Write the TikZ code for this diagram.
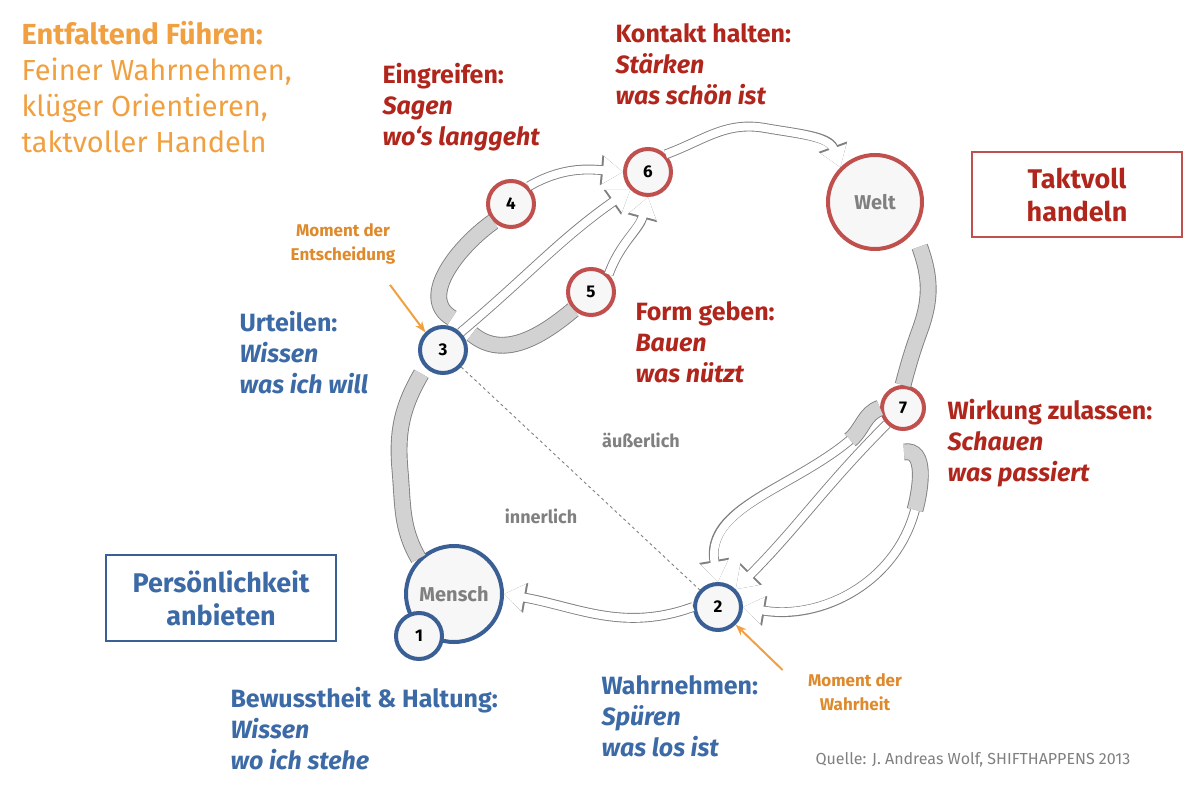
\documentclass[tikz,border=0pt]{standalone}
\usepackage{fontspec}
\setmainfont{Fira Sans}
\usetikzlibrary{arrows.meta}
\definecolor{orangetxt}{HTML}{F0A040}
\definecolor{orangemom}{HTML}{DE8A2C}
\definecolor{redtxt}{HTML}{B0261C}
\definecolor{redring}{HTML}{C0504D}
\definecolor{bluetxt}{HTML}{3C6AA6}
\definecolor{bluering}{HTML}{3A5F94}
\tikzset{
  ring/.style={circle, line width=4pt, fill=gray!6, inner sep=0pt, font=\fontsize{17}{17}\selectfont\bfseries},
  redstep/.style={ring, draw=redring, minimum size=46pt},
  bluestep/.style={ring, draw=bluering, minimum size=46pt},
  label/.style={anchor=north west, align=left, font=\fontsize{25}{31}\selectfont\bfseries},
  band/.style={draw=gray, double=gray!35, double distance=15pt, line width=0.9pt},
  whitearrow/.style={draw=white, line width=8pt, -{Triangle[length=20pt,width=26pt,fill=white]},
    preaction={draw=gray, line width=9.8pt, -{Triangle[length=22pt,width=29pt]}}},
  moment/.style={-{Stealth[length=11pt]}, orangetxt, line width=2pt}
}
\begin{document}
\begin{tikzpicture}[x=1pt,y=-1pt]
\useasboundingbox (0,0) rectangle (1200,802);
% headline
\node[label, text=orangetxt, font=\fontsize{29}{36}\selectfont] (title) at (18,18)
  {\textbf{Entfaltend Führen:}\\\mdseries Feiner Wahrnehmen,\\\mdseries klüger Orientieren,\\\mdseries taktvoller Handeln};
% circles
\node[ring, draw=redring, minimum size=94pt, text=gray, font=\fontsize{20}{20}\selectfont\bfseries] (welt) at (875,202) {Welt};
\node[ring, draw=bluering, minimum size=96pt, text=gray, font=\fontsize{20}{20}\selectfont\bfseries] (mensch) at (454,594) {Mensch};
\node[bluestep] (n1) at (419,636) {1};
\node[bluestep] (n2) at (718,607) {2};
\node[bluestep] (n3) at (443,350) {3};
\node[redstep] (n4) at (511,204) {4};
\node[redstep] (n5) at (591,292) {5};
\node[redstep] (n6) at (648,172) {6};
\node[redstep, minimum size=42pt] (n7) at (903,408) {7};
% boxes
\node[draw=redring, line width=2pt, minimum width=210pt, minimum height=85pt, text=redtxt,
  align=center, font=\fontsize{27}{33}\selectfont\bfseries] (takt) at (1077,195) {Taktvoll\\handeln};
\node[draw=bluering, line width=2pt, minimum width=230pt, minimum height=86pt, text=bluetxt,
  align=center, font=\fontsize{27}{33}\selectfont\bfseries] (pers) at (221,598) {Persönlichkeit\\anbieten};
% labels
\node[label, text=redtxt] (kontakt) at (612,20) {Kontakt halten:\\\itshape Stärken\\\itshape was schön ist};
\node[label, text=redtxt] (eingreifen) at (379,60) {Eingreifen:\\\itshape Sagen\\\itshape wo‘s langgeht};
\node[label, text=redtxt] (form) at (632,298) {Form geben:\\\itshape Bauen\\\itshape was nützt};
\node[label, text=redtxt] (wirkung) at (944,396) {Wirkung zulassen:\\\itshape Schauen\\\itshape was passiert};
\node[label, text=bluetxt] (urteilen) at (236,308) {Urteilen:\\\itshape Wissen\\\itshape was ich will};
\node[label, text=bluetxt] (bewusst) at (227,684) {Bewusstheit \& Haltung:\\\itshape Wissen\\\itshape wo ich stehe};
\node[label, text=bluetxt] (wahr) at (598,672) {Wahrnehmen:\\\itshape Spüren\\\itshape was los ist};
\node[text=orangemom, align=center, font=\fontsize{17}{24}\selectfont\bfseries] (entsch) at (343,244) {Moment der\\Entscheidung};
\node[text=orangemom, align=center, font=\fontsize{17}{24}\selectfont\bfseries] (wahrheit) at (855,692) {Moment der\\Wahrheit};
\node[text=gray, font=\fontsize{18}{18}\selectfont\bfseries] (aussen) at (641,440) {äußerlich};
\node[text=gray, font=\fontsize{18}{18}\selectfont\bfseries] (innen) at (541,516) {innerlich};
\node[anchor=west, text=gray, font=\fontsize{16}{16}\selectfont] (quelle) at (812,760) {Quelle: J. Andreas Wolf, SHIFTHAPPENS 2013};
% dashed divider
\draw[gray, dashed, line width=0.9pt] (n3) -- (n2);
% grey bands
\draw[band] (n3.south west) ++(-4,6) to[out=240,in=95] (400,470) to[out=275,in=120] (mensch.north west);
\draw[band] (welt.south east) ++(10,10) to[out=290,in=70] (920,330) to[out=250,in=75] (n7.north);
\draw[band] (452,318) to[out=150,in=215] (n4.south west);
\draw[band] (472,334) to[out=-40,in=220] (n5.south west);
\draw[band] (n7.west) to[out=200,in=40] (850,440);
\draw[band] (904,452) to[out=10,in=75] (915,510);
% white arrows
\draw[whitearrow] (n3.north east) to[out=40,in=215] (n6.south west);
\draw[whitearrow] (n4.north east) to[out=30,in=175] (n6.west);
\draw[whitearrow] (n5.north east) to[out=70,in=255] (n6.south);
\draw[whitearrow] (n6.north east) to[out=20,in=170] (765,128) to[out=-10,in=110] (welt.north west);
\draw[whitearrow] (n2.west) to[out=200,in=-10] (mensch.east);
\draw[whitearrow] (n7.south west) to[out=225,in=45] (n2.north east);
\draw[whitearrow] (850,440) to[out=220,in=100] (n2.north);
\draw[whitearrow] (915,510) to[out=255,in=-10] (n2.east);
% moments
\draw[moment] (entsch.south) ++(47,17) -- (n3.north west);
\draw[moment] (wahrheit.west) ++(-22,-22) -- (n2.south east);
\end{tikzpicture}
\end{document}
